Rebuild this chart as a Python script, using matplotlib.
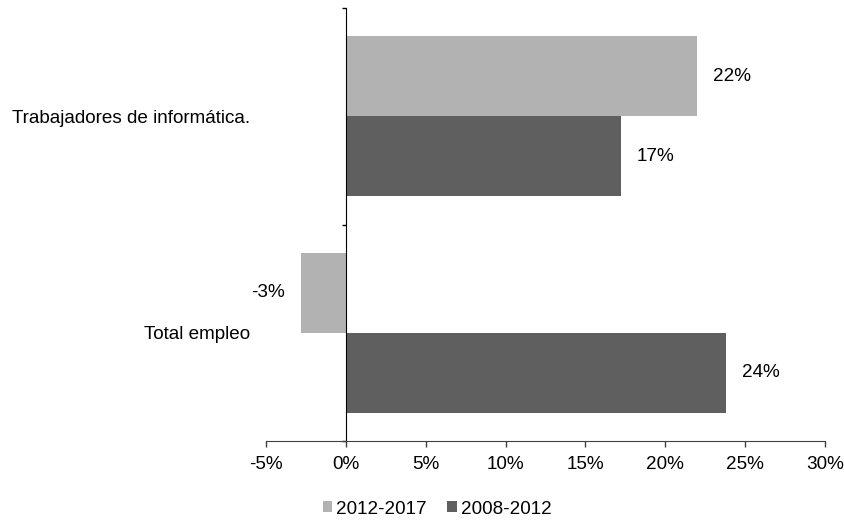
"""Horizontal bar chart: employment growth, IT workers vs total employment."""

import numpy as np
import matplotlib
matplotlib.use("Agg")
import matplotlib.pyplot as plt
from matplotlib.ticker import FuncFormatter

# data (bottom to top)
categories = ["Total empleo", "Trabajadores de informática."]
series_names = ["2012-2017", "2008-2012"]
growth_2012_2017 = [-2.8, 22.0]
growth_2008_2012 = [23.8, 17.2]
xticks = [-5, 0, 5, 10, 15, 20, 25, 30]

colors = ["#b2b2b2", "#5f5f5f"]


def main():
    plt.rcParams["font.family"] = ["Liberation Sans", "DejaVu Sans"]
    plt.rcParams["font.size"] = 13.6

    fig = plt.figure(figsize=(8.44, 5.2), dpi=100)
    ax = fig.add_axes([0.3152, 0.1519, 0.6623, 0.8327])

    y = np.arange(len(categories))
    h = 0.37
    for offset, vals, name, color in [(h / 2, growth_2012_2017, series_names[0], colors[0]),
                                      (-h / 2, growth_2008_2012, series_names[1], colors[1])]:
        bars = ax.barh(y + offset, vals, height=h, color=color, label=name)
        for bar, v in zip(bars, vals):
            cy = bar.get_y() + bar.get_height() / 2
            ax.annotate(f"{v:.0f}%", (v, cy),
                        xytext=(11.5 if v >= 0 else -11.5, 0),
                        textcoords="offset points",
                        ha="left" if v >= 0 else "right", va="center",
                        color="black")

    ax.set_xlim(-5, 30)
    ax.set_ylim(-0.5, 1.5)
    ax.set_xticks(xticks)
    ax.xaxis.set_major_formatter(FuncFormatter(lambda v, _: f"{v:.0f}%"))
    ax.tick_params(axis="x", direction="out", length=4, width=1,
                   color="#404040", pad=6.5, labelcolor="black")

    ax.spines["top"].set_visible(False)
    ax.spines["right"].set_visible(False)
    ax.spines["left"].set_position(("data", 0))
    ax.spines["left"].set_color("black")
    ax.spines["bottom"].set_color("#404040")

    ax.set_yticks(y)
    ax.set_yticklabels(categories)
    ax.set_yticks([-0.5, 0.5, 1.5], minor=True)
    ax.tick_params(axis="y", which="major", length=0, pad=69)
    ax.tick_params(axis="y", which="minor", length=3, width=1, color="black")

    ax.legend(loc="center", bbox_to_anchor=(437 / 844, 1 - 509 / 520),
              bbox_transform=fig.transFigure, ncol=2, frameon=False,
              handlelength=0.5, handleheight=0.5, handletextpad=0.2,
              columnspacing=1.1, borderaxespad=0)

    fig.savefig("out.png", dpi=100)


if __name__ == "__main__":
    main()
